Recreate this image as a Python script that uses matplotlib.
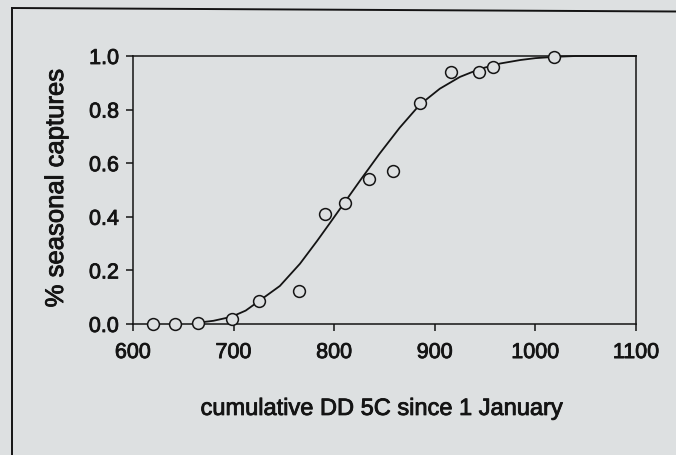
import matplotlib
matplotlib.use("Agg")
import matplotlib.pyplot as plt
import matplotlib.patheffects as pe
from matplotlib.lines import Line2D

# observed seasonal captures vs cumulative degree-days
dd_obs = [620, 642, 665, 698, 725, 765, 791, 811, 835, 858, 885, 916, 944, 958, 1018]
capt_obs = [0.0, 0.0, 0.005, 0.02, 0.085, 0.125, 0.41, 0.45, 0.54, 0.57, 0.825, 0.94, 0.94, 0.96, 0.995]

# fitted curve
dd_fit = [665, 680, 698, 712, 725, 746, 766, 783, 796, 810, 827, 845, 865, 885,
          905, 925, 945, 965, 985, 1000, 1020, 1040, 1100]
capt_fit = [0.005, 0.012, 0.027, 0.05, 0.085, 0.142, 0.225, 0.31, 0.378, 0.452, 0.542,
            0.635, 0.732, 0.818, 0.878, 0.922, 0.952, 0.972, 0.985, 0.992, 0.997, 1.0, 1.0]

xticks = [600, 700, 800, 900, 1000, 1100]
yticks = [0.0, 0.2, 0.4, 0.6, 0.8, 1.0]

bg = "#dde0e1"
ink = "#141414"

plt.rcParams['font.family'] = ['Liberation Sans', 'DejaVu Sans']

W, H = 676, 456
fig = plt.figure(figsize=(W / 100, H / 100), dpi=100, facecolor=bg)
ax = fig.add_axes([133 / W, 1 - 325 / H, 503 / W, 268 / H])
ax.set_facecolor(bg)

ax.plot(dd_fit, capt_fit, color=ink, lw=1.3, zorder=3, clip_on=False)
ax.plot(dd_obs, capt_obs, ls='none', marker='o', ms=8.5, mfc=bg, mec=ink, mew=1.1,
        zorder=4, clip_on=False)

ax.set_xlim(600, 1100)
ax.set_ylim(0, 1)
ax.set_xticks(xticks)
ax.set_yticks(yticks)
ax.set_yticklabels(["%.1f" % v for v in yticks])
ax.tick_params(direction='out', length=5, width=1.1, color=ink, labelcolor=ink,
               labelsize=15.5)
ax.tick_params(axis='x', pad=8)
ax.tick_params(axis='y', pad=5)

# scanned print looks heavier than regular weight
thick = [pe.withStroke(linewidth=0.6, foreground=ink)]
for lab in ax.get_xticklabels() + ax.get_yticklabels():
    lab.set_path_effects(thick)

for s in ax.spines.values():
    s.set_color(ink)
    s.set_linewidth(1.1)

ax.set_xlabel("cumulative DD 5C since 1 January", fontsize=17, color=ink, va='center',
              path_effects=thick)
ax.xaxis.set_label_coords(0.495, -0.317)
ax.set_ylabel("% seasonal captures", fontsize=18.5, color=ink, va='center',
              path_effects=thick)
ax.yaxis.set_label_coords(-0.153, 0.508)

# outer box of the scanned page
fig.add_artist(Line2D([12 / W, 1.0], [1 - 9 / H, 1 - 12.5 / H], color=ink, lw=1.4))
fig.add_artist(Line2D([12 / W, 12 / W], [1 - 9 / H, 0.0], color=ink, lw=1.4))

fig.savefig("out.png", dpi=100, facecolor=bg)
